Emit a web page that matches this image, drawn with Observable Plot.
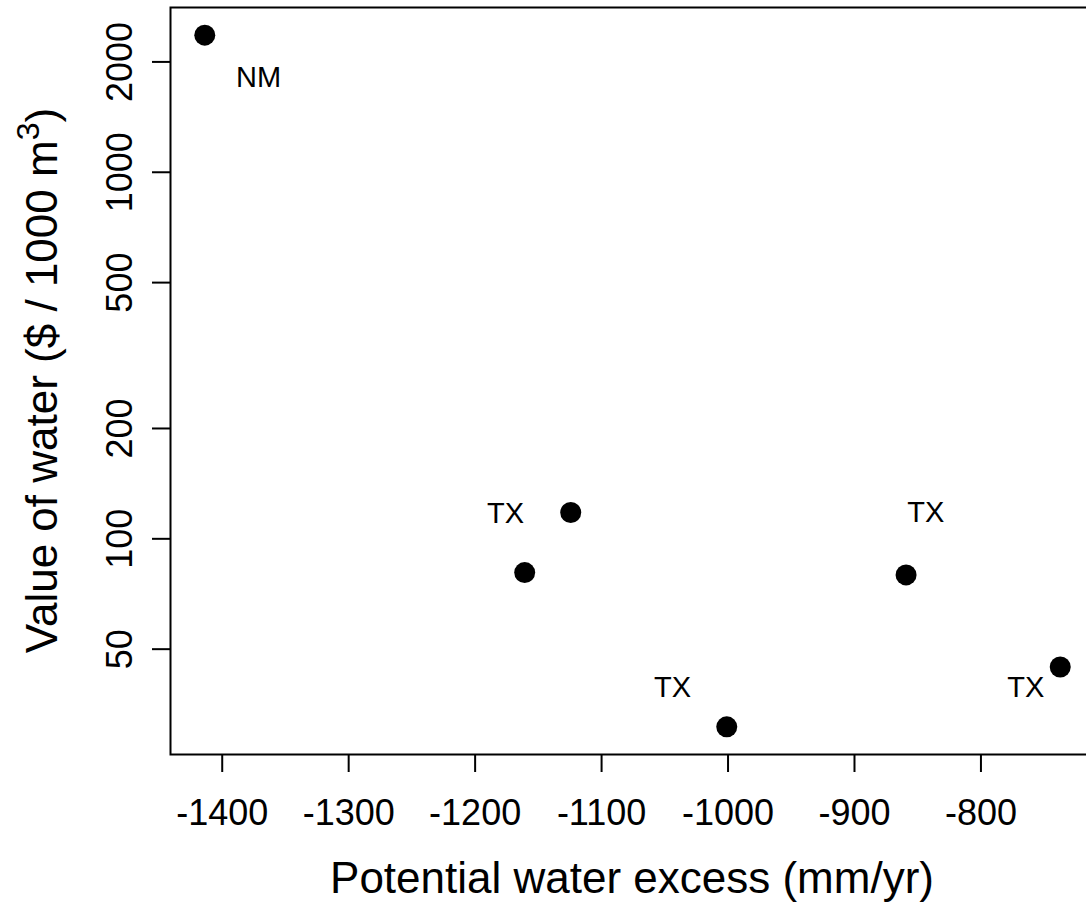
<!DOCTYPE html>
<html>
<head>
<meta charset="utf-8">
<script src="https://cdn.jsdelivr.net/npm/d3@7"></script>
<script src="https://cdn.jsdelivr.net/npm/@observablehq/plot@0.6"></script>
<style>
  html, body { margin: 0; padding: 0; background: white; overflow: hidden; }
  #chart svg { display: block; }
</style>
</head>
<body>
<div id="chart"></div>
<script>
// Data points (potential water excess, value of water)
const excess = [-1413.8, -1160.8, -1124.4, -1001, -859.2, -737.3];
const waterValue = [2366, 80.9, 118, 30.7, 79.7, 44.7];

// Annotation labels (positions in data units)
const labelText = ["NM", "TX", "TX", "TX", "TX"];
const labelX = [-1371.3, -1175.9, -1043.8, -843.6, -764.5];
const labelY = [1816, 117.3, 39.2, 118, 39.2];

// Axis ticks
const xTicks = [-1400, -1300, -1200, -1100, -1000, -900, -800];
const yTicks = [50, 100, 200, 500, 1000, 2000];

const xTitle = "Potential water excess (mm/yr)";
const yTitleMain = "Value of water ($ / 1000 m";
const yTitleSup = "3";
const yTitleEnd = ")";

const points = excess.map((x, i) => ({x, y: waterValue[i]}));
const labels = labelText.map((t, i) => ({text: t, x: labelX[i], y: labelY[i]}));

const FONT = "'Liberation Sans', Arial, Helvetica, sans-serif";
const W = 1086, H = 904;

const chart = Plot.plot({
  width: W,
  height: H,
  marginLeft: 170,
  marginRight: -8,
  marginTop: 7,
  marginBottom: 150,
  style: {fontFamily: FONT, background: "white", color: "black", overflow: "hidden"},
  x: {domain: [-1440.9, -710.2]},
  y: {type: "log", domain: [25.8, 2815]},
  marks: [
    Plot.axisX({ticks: xTicks, tickSize: 18, tickPadding: 27, fontSize: 36,
                tickFormat: d => String(d), strokeWidth: 2, label: null}),
    Plot.axisY({ticks: yTicks, tickSize: 18, tickFormat: () => "", strokeWidth: 2, label: null}),
    Plot.text(yTicks, {y: d => d, text: d => String(d), frameAnchor: "left", dx: -50,
                       rotate: -90, textAnchor: "middle", lineAnchor: "middle", fontSize: 36, fill: "black"}),
    Plot.frame({stroke: "black", strokeWidth: 2}),
    Plot.dot(points, {x: "x", y: "y", r: 10.5, fill: "black", stroke: "none"}),
    Plot.text(labels, {x: "x", y: "y", text: "text", fontSize: 29, fill: "black"})
  ]
});

const svg = d3.select(chart);
svg.append("text")
  .attr("x", 632).attr("y", 893)
  .attr("text-anchor", "middle")
  .attr("font-family", FONT)
  .attr("font-size", 44)
  .attr("fill", "black")
  .text(xTitle);

const yt = svg.append("text")
  .attr("transform", "translate(57,380.5) rotate(-90)")
  .attr("text-anchor", "middle")
  .attr("font-family", FONT)
  .attr("font-size", 44)
  .attr("fill", "black");
yt.append("tspan").text(yTitleMain);
yt.append("tspan").attr("font-size", 32).attr("dy", -18).text(yTitleSup);
yt.append("tspan").attr("dy", 18).text(yTitleEnd);

document.getElementById("chart").appendChild(chart);
</script>
</body>
</html>
